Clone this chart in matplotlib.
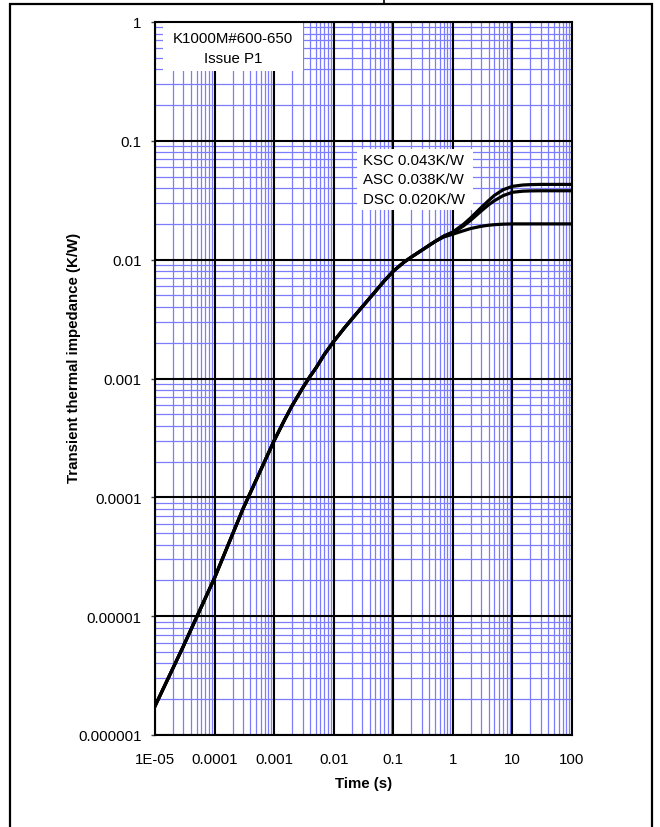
import matplotlib
matplotlib.use("Agg")
import matplotlib.pyplot as plt
from matplotlib.patches import Rectangle
from matplotlib.lines import Line2D
from matplotlib.ticker import FixedLocator, FixedFormatter, NullFormatter

plt.rcParams['font.family'] = ['Liberation Sans', 'DejaVu Sans']

# Shared early part of the transient thermal impedance curve (time s, Z K/W)
t_common = [1e-5, 3e-5, 1e-4, 3e-4, 1e-3, 1.5e-3, 2e-3, 3e-3, 4e-3, 5e-3,
            7e-3, 1e-2, 1.5e-2, 2e-2, 3e-2, 5e-2, 7e-2, 0.1, 0.15, 0.2,
            0.3, 0.4, 0.5]
z_common = [1.75e-6, 5.6e-6, 2.1e-5, 8.0e-5, 3.0e-4, 4.5e-4, 5.9e-4, 8.3e-4,
            1.04e-3, 1.22e-3, 1.6e-3, 2.05e-3, 2.65e-3, 3.15e-3, 4.0e-3,
            5.4e-3, 6.6e-3, 8.0e-3, 9.5e-3, 1.05e-2, 1.2e-2, 1.32e-2,
            1.42e-2]

# Tails of the three cooling configurations
t_ksc = [0.7, 1, 1.5, 2, 3, 4, 5, 7, 10, 15, 20, 30, 50, 100]
z_ksc = [0.0158, 0.0171, 0.0198, 0.0225, 0.0275, 0.0315, 0.0348, 0.0388,
         0.0414, 0.0425, 0.0428, 0.0430, 0.0430, 0.0430]
t_asc = [0.7, 1, 1.5, 2, 3, 4, 5, 7, 10, 15, 20, 30, 50, 100]
z_asc = [0.0157, 0.0168, 0.0192, 0.0215, 0.0257, 0.0290, 0.0314, 0.0346,
         0.0369, 0.0377, 0.0379, 0.0380, 0.0380, 0.0380]
t_dsc = [0.7, 1, 1.5, 2, 3, 4, 5, 7, 10, 20, 50, 100]
z_dsc = [0.0155, 0.0164, 0.0175, 0.0183, 0.0191, 0.0195, 0.0197, 0.0199,
         0.0200, 0.0200, 0.0200, 0.0200]

legend_lines = ["KSC 0.043K/W", "ASC 0.038K/W", "DSC 0.020K/W"]
title_lines = "K1000M#600-650\nIssue P1"

x_ticks = [1e-5, 1e-4, 1e-3, 1e-2, 1e-1, 1, 10, 100]
x_labels = ["1E-05", "0.0001", "0.001", "0.01", "0.1", "1", "10", "100"]
y_ticks = [1e-6, 1e-5, 1e-4, 1e-3, 1e-2, 1e-1, 1]
y_labels = ["0.000001", "0.00001", "0.0001", "0.001", "0.01", "0.1", "1"]

W, H = 660, 828
fig = plt.figure(figsize=(W / 100, H / 100), dpi=100)
fig.patch.set_facecolor('white')

# page frame around the chart
fig.add_artist(Rectangle((10 / W, -0.2), 642 / W, 1.2 - 5 / H,
                         transform=fig.transFigure, fill=False,
                         edgecolor='black', linewidth=1.6))
fig.add_artist(Line2D([384 / W, 384 / W], [1 - 5 / H, 1.0],
                      transform=fig.transFigure, color='black', linewidth=1.2))

ax = fig.add_axes([155 / W, 1 - 736 / H, 417 / W, 713 / H])
ax.set_xscale('log')
ax.set_yscale('log')
ax.set_xlim(1e-5, 100)
ax.set_ylim(1e-6, 1)

# minor grid (2..9 in each decade) in blue, major decades in black
minor_x = [m * 10.0 ** e for e in range(-5, 2) for m in range(2, 10)]
minor_y = [m * 10.0 ** e for e in range(-6, 0) for m in range(2, 10)]
for v in minor_x:
    ax.axvline(v, color='#7c7cff', linewidth=0.9, zorder=1)
for v in minor_y:
    ax.axhline(v, color='#7c7cff', linewidth=0.9, zorder=1)
for v in x_ticks:
    ax.axvline(v, color='black', linewidth=1.5, zorder=2)
for v in y_ticks:
    ax.axhline(v, color='black', linewidth=1.5, zorder=2)

for tt, zz in ((t_ksc, z_ksc), (t_asc, z_asc), (t_dsc, z_dsc)):
    ax.plot(t_common + tt, z_common + zz, color='black', linewidth=2.3,
            solid_joinstyle='round', zorder=5)

ax.xaxis.set_major_locator(FixedLocator(x_ticks))
ax.xaxis.set_major_formatter(FixedFormatter(x_labels))
ax.xaxis.set_minor_locator(FixedLocator([]))
ax.xaxis.set_minor_formatter(NullFormatter())
ax.yaxis.set_major_locator(FixedLocator(y_ticks))
ax.yaxis.set_major_formatter(FixedFormatter(y_labels))
ax.yaxis.set_minor_locator(FixedLocator([]))
ax.yaxis.set_minor_formatter(NullFormatter())
ax.tick_params(axis='x', length=0, pad=12, labelsize=10.8)
ax.tick_params(axis='y', length=3.2, width=1.0, color='#444444', pad=6.5,
               labelsize=10.8)
for s in ax.spines.values():
    s.set_linewidth(1.5)
    s.set_color('black')
    s.set_zorder(6)

fig.text(74 / W, 1 - 358 / H, "Transient thermal impedance (K/W)",
         rotation=90, ha='center', va='center', fontsize=10.8,
         fontweight='bold')
fig.text(364 / W, 1 - 784 / H, "Time (s)", ha='center', va='center',
         fontsize=10.8, fontweight='bold')

# identification box
ax.add_patch(Rectangle(((163 - 155) / 417, (736 - 72) / 713),
                       (303 - 163) / 417, (72 - 23) / 713,
                       transform=ax.transAxes, facecolor='white',
                       edgecolor='none', zorder=4))
ax.text((233 - 155) / 417, (736 - 49) / 713, title_lines,
        transform=ax.transAxes, ha='center', va='center', fontsize=10.8,
        linespacing=1.5, zorder=7)

# configuration box
ax.add_patch(Rectangle(((357 - 155) / 417, (736 - 211) / 713),
                       (473 - 357) / 417, (211 - 150) / 713,
                       transform=ax.transAxes, facecolor='white',
                       edgecolor='none', zorder=4))
for i, line in enumerate(legend_lines):
    ax.text((363 - 155) / 417, (736 - (161 + 19.5 * i)) / 713, line,
            transform=ax.transAxes, ha='left', va='center', fontsize=10.8,
            zorder=7)

fig.savefig("out.png", dpi=100)
